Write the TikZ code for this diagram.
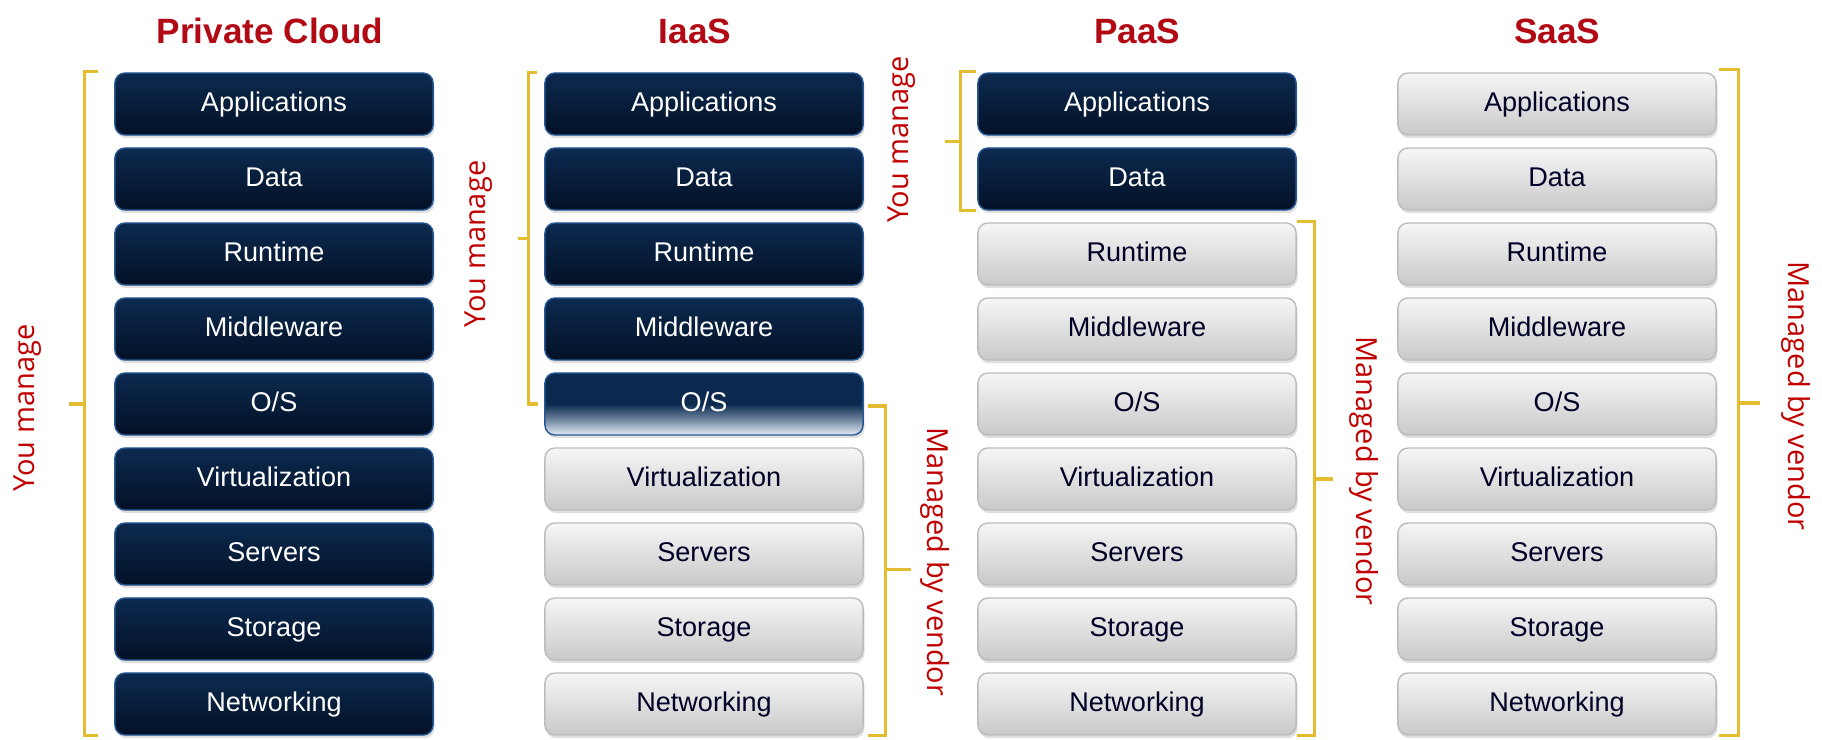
\documentclass[tikz,border=0pt]{standalone}
\usepackage{fontspec}
\setmainfont{Liberation Sans}
\newfontfamily\sidefont{Open Sans}
\usetikzlibrary{calc,shadows}

\definecolor{navytop}{RGB}{12,42,80}
\definecolor{navybot}{RGB}{3,17,38}
\definecolor{navyedge}{RGB}{38,88,150}
\definecolor{greytop}{RGB}{246,246,246}
\definecolor{greybot}{RGB}{201,201,201}
\definecolor{greyedge}{RGB}{188,188,188}
\definecolor{oslight}{RGB}{226,238,248}
\definecolor{titlered}{RGB}{178,10,20}
\definecolor{labelred}{RGB}{192,0,0}
\definecolor{bracketgold}{RGB}{228,188,48}

\pgfdeclareverticalshading{osfade}{100bp}{color(0bp)=(oslight); color(25bp)=(oslight); color(38bp)=(navytop!55!oslight); color(50bp)=(navytop); color(100bp)=(navytop)}

\tikzset{
  tier/.style={rounded corners=0.1cm, minimum width=3.18cm, minimum height=0.62cm,
    inner sep=0pt, line width=0.4pt, font=\fontsize{7.7}{9}\selectfont,
    text height=0.72em, text depth=0.3em,
    drop shadow={shadow xshift=0.4pt, shadow yshift=-0.9pt, opacity=0.25}},
  ownbox/.style={tier, top color=navytop, bottom color=navybot, draw=navyedge, text=white},
  vendorbox/.style={tier, top color=greytop, bottom color=greybot, draw=greyedge, text=black!85!blue},
  osbox/.style={tier, shading=osfade, draw=navyedge, text=white},
  coltitle/.style={font=\bfseries\fontsize{10}{12}\selectfont, text=titlered, anchor=base},
  sidelabel/.style={font=\sidefont\fontsize{8.25}{10}\selectfont, text=labelred, inner sep=0pt},
  bracket/.style={draw=bracketgold, line width=0.9pt}
}

\begin{document}
\begin{tikzpicture}[x=0.01cm, y=-0.01cm]
\useasboundingbox (0,0) rectangle (1822,739);

\foreach \col/\cx/\tx/\ndark/\nmix/\ttl in {pc/274/270/9/0/Private Cloud, ia/704/695/4/5/IaaS, pa/1137/1137/2/0/PaaS, sa/1557/1557/0/0/SaaS} {
  \foreach \lbl [count=\r] in {Applications,Data,Runtime,Middleware,O/S,Virtualization,Servers,Storage,Networking} {
    \ifnum\r>\ndark \def\kind{vendorbox}\else\def\kind{ownbox}\fi
    \ifnum\r=\nmix \def\kind{osbox}\fi
    \node[\kind] (\col\r) at (\cx,{104+75*(\r-1)}) {\lbl};
  }
  \node[coltitle] (\col title) at (\tx,43) {\ttl};
}

\draw[bracket] ($(pc1.north west)+(-16,-1)$) -- ++(-14,0) |- ($(pc9.south west)+(-16,0)$);
\coordinate (pcmid) at ($(pc1.north west)!0.5!(pc9.south west)+(-30,0)$);
\draw[bracket] (pcmid) -- ++(-15,0) coordinate (pctip);
\node[sidelabel, rotate=90] (pcyou) at ($(pctip)+(-42,4)$) {You manage};

\draw[bracket] ($(ia1.north west)+(-7,0)$) -- ++(-9,0) |- ($(ia5.west)+(-6,0)$);
\coordinate (iamid) at ($(ia1.north west)!0.5!(ia5.west)+(-16,0)$);
\draw[bracket] (iamid) -- ++(-10,0) coordinate (iatip);
\node[sidelabel, rotate=90] (iayou) at ($(iatip)+(-40,6)$) {You manage};

\draw[bracket] ($(ia5.east)+(4,2)$) -- ++(18,0) |- ($(ia9.south east)+(4,0)$);
\coordinate (iavmid) at ($(ia5.east)!0.5!(ia9.south east)+(22,0)$);
\draw[bracket] (iavmid) -- ++(25,0) coordinate (iavtip);
\node[sidelabel, rotate=-90] (iavendor) at ($(iavtip)+(24,-8)$) {Managed by vendor};

\draw[bracket] ($(pa1.north west)+(-1,-1)$) -- ++(-16,0) |- ($(pa2.south west)+(-1,0)$);
\coordinate (pamid) at ($(pa1.north west)!0.5!(pa2.south west)+(-17,0)$);
\draw[bracket] (pamid) -- ++(-15,0) coordinate (patip);
\node[sidelabel, rotate=90] (payou) at ($(patip)+(-44,-2)$) {You manage};

\draw[bracket] ($(pa3.north east)+(0,-1)$) -- ++(18,0) |- ($(pa9.south east)$);
\coordinate (pavmid) at ($(pa3.north east)!0.5!(pa9.south east)+(18,0)$);
\draw[bracket] (pavmid) -- ++(18,0) coordinate (pavtip);
\node[sidelabel, rotate=-90] (pavendor) at ($(pavtip)+(31,-8)$) {Managed by vendor};

\draw[bracket] ($(sa1.north east)+(2,-3)$) -- ++(20,0) |- ($(sa9.south east)+(2,0)$);
\coordinate (savmid) at ($(sa1.north east)!0.5!(sa9.south east)+(22,-1)$);
\draw[bracket] (savmid) -- ++(21,0) coordinate (savtip);
\node[sidelabel, rotate=-90] (savendor) at ($(savtip)+(36,-7)$) {Managed by vendor};
\end{tikzpicture}
\end{document}
